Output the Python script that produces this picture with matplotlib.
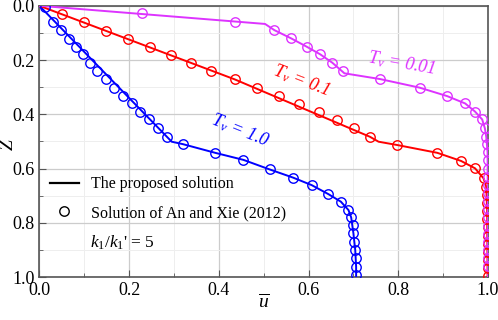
import numpy as np
import matplotlib
matplotlib.use('Agg')
import matplotlib.pyplot as plt
from matplotlib.lines import Line2D
from matplotlib.ticker import MultipleLocator

plt.rcParams['font.family'] = 'Liberation Serif'
plt.rcParams['mathtext.fontset'] = 'custom'
plt.rcParams['mathtext.rm'] = 'Liberation Serif'
plt.rcParams['mathtext.it'] = 'Liberation Serif:italic'

## DATA
# Tv = 1.0 (blue)
blue_u = [0.013, 0.031, 0.048, 0.065, 0.082, 0.098, 0.113, 0.129, 0.149, 0.167,
          0.187, 0.206, 0.224, 0.245, 0.265, 0.284, 0.320, 0.392, 0.455, 0.513,
          0.565, 0.607, 0.644, 0.672, 0.689, 0.695, 0.698, 0.700, 0.702, 0.704,
          0.705, 0.705, 0.706]
blue_z = [0.006, 0.059, 0.090, 0.124, 0.151, 0.179, 0.210, 0.240, 0.271, 0.302,
          0.333, 0.360, 0.390, 0.419, 0.452, 0.483, 0.510, 0.542, 0.568, 0.603,
          0.633, 0.661, 0.694, 0.722, 0.753, 0.780, 0.808, 0.839, 0.870, 0.900,
          0.931, 0.962, 0.992]
blue_line_u = [0.0, 0.295, 0.320, 0.392, 0.455, 0.513, 0.565, 0.607, 0.644, 0.672,
               0.689, 0.695, 0.700, 0.704, 0.706, 0.706]
blue_line_z = [0.0, 0.501, 0.510, 0.542, 0.568, 0.603, 0.633, 0.661, 0.694, 0.722,
               0.753, 0.780, 0.839, 0.900, 0.962, 1.0]

# Tv = 0.1 (red)
red_u = [0.050, 0.100, 0.149, 0.197, 0.247, 0.293, 0.338, 0.383, 0.435, 0.485,
         0.534, 0.579, 0.623, 0.664, 0.701, 0.737, 0.797, 0.887, 0.940, 0.971,
         0.990, 0.996, 0.997, 0.998, 0.998, 0.998, 0.999, 0.999, 0.999, 0.999,
         0.999, 0.999, 0.999]
red_z = [0.031, 0.061, 0.092, 0.124, 0.151, 0.182, 0.210, 0.241, 0.271, 0.302,
         0.333, 0.363, 0.391, 0.421, 0.452, 0.483, 0.513, 0.542, 0.572, 0.599,
         0.636, 0.667, 0.697, 0.727, 0.757, 0.787, 0.817, 0.847, 0.877, 0.907,
         0.937, 0.967, 0.995]
red_line_u = [0.0, 0.435, 0.737, 0.756, 0.797, 0.887, 0.940, 0.971, 0.990, 0.996,
              0.998, 0.999]
red_line_z = [0.0, 0.271, 0.483, 0.501, 0.513, 0.542, 0.572, 0.599, 0.636, 0.667,
              0.757, 1.0]

# Tv = 0.01 (magenta)
mag_u = [0.228, 0.436, 0.524, 0.561, 0.596, 0.626, 0.653, 0.676, 0.759, 0.848,
         0.909, 0.949, 0.971, 0.987, 0.993, 0.996, 0.998, 0.999, 0.999, 1.0,
         1.0, 1.0, 1.0, 1.0, 1.0, 1.0, 1.0, 1.0, 1.0, 1.0, 1.0, 1.0]
mag_z = [0.028, 0.059, 0.090, 0.120, 0.151, 0.179, 0.210, 0.240, 0.270, 0.302,
         0.333, 0.360, 0.390, 0.419, 0.452, 0.483, 0.510, 0.540, 0.570, 0.600,
         0.630, 0.660, 0.690, 0.720, 0.750, 0.780, 0.810, 0.840, 0.870, 0.900,
         0.930, 0.960]
mag_line_u = [0.0, 0.503, 0.524, 0.561, 0.596, 0.626, 0.653, 0.680, 0.759, 0.848,
              0.909, 0.949, 0.971, 0.987, 0.993, 0.996, 0.999, 1.0]
mag_line_z = [0.0, 0.067, 0.090, 0.120, 0.151, 0.179, 0.210, 0.249, 0.270, 0.302,
              0.333, 0.360, 0.390, 0.419, 0.452, 0.483, 0.540, 1.0]

series = [
    ('blue', blue_line_u, blue_line_z, blue_u, blue_z),
    ('red', red_line_u, red_line_z, red_u, red_z),
    ('#dd33ff', mag_line_u, mag_line_z, mag_u, mag_z),
]

fig = plt.figure(figsize=(4.98, 3.2), dpi=100)
ax = fig.add_axes([0.079, 0.134, 0.901, 0.848])

for col, lu, lz, mu, mz in series:
    ax.plot(lu, lz, color=col, lw=1.4, zorder=3)
    ax.plot(mu, mz, 'o', mfc='none', mec=col, ms=6.8, mew=1.0, zorder=4)

ax.set_xlim(0, 1)
ax.set_ylim(1, 0)
ax.xaxis.set_major_locator(MultipleLocator(0.2))
ax.xaxis.set_minor_locator(MultipleLocator(0.1))
ax.yaxis.set_major_locator(MultipleLocator(0.2))
ax.yaxis.set_minor_locator(MultipleLocator(0.1))
ax.set_xticklabels([f'{v:.1f}' for v in ax.get_xticks()])
ax.set_yticklabels([f'{v:.1f}' for v in ax.get_yticks()])
ax.tick_params(which='both', direction='in', labelsize=13, color='#555555')
ax.tick_params(which='major', length=5)
ax.tick_params(which='minor', length=3)
ax.grid(which='major', color='#cccccc', lw=0.9)
ax.grid(which='minor', color='#eeeeee', lw=0.7)
ax.set_axisbelow(True)
for s in ax.spines.values():
    s.set_color('#555555')
    s.set_linewidth(1.2)

ax.set_xlabel(r'$\overline{u}$', fontsize=14)
ax.xaxis.set_label_coords(0.5, -0.06)
ax.set_ylabel('Z', fontsize=14, style='italic')
ax.yaxis.set_label_coords(-0.05, 0.49)

ax.text(0.447, 0.458, r'$T_v$ = 1.0', color='blue', fontsize=13, style='italic',
        rotation=-22, ha='center', va='center')
ax.text(0.585, 0.274, r'$T_v$ = 0.1', color='red', fontsize=13, style='italic',
        rotation=-21, ha='center', va='center')
ax.text(0.808, 0.211, r'$T_v$ = 0.01', color='#dd33ff', fontsize=13, style='italic',
        rotation=-10, ha='center', va='center')

handles = [Line2D([], [], color='black', lw=1.6),
           Line2D([], [], ls='none', marker='o', mfc='none', mec='black', ms=6.8)]
ax.legend(handles, ['The proposed solution', 'Solution of An and Xie (2012)'],
          loc='center left', bbox_to_anchor=(0.024, 0.289), frameon=False,
          borderaxespad=0, borderpad=0,
          fontsize=11.5, handlelength=1.8, handletextpad=0.75, labelspacing=0.8)
ax.text(0.113, 0.875, "$k_1$/$k_1$' = 5", fontsize=12.5, ha='left', va='center')

fig.savefig('out.png', dpi=100)
